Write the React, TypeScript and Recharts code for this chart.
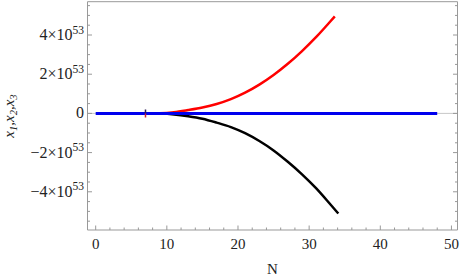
import React from 'react'
import { ComposedChart, Line, Scatter, XAxis, YAxis, ReferenceLine } from 'recharts'

// values in units of 10^53
const redN = [7, 9, 11, 13, 15, 17, 19, 21, 23, 25, 27, 29, 31, 33, 33.6]
const redV = [0, 0.01, 0.06, 0.17, 0.3, 0.48, 0.73, 1.06, 1.47, 1.96, 2.53, 3.18, 3.9, 4.7, 4.95]
const blackN = [7, 9, 11, 13, 15, 17, 19, 21, 23, 25, 27, 29, 31, 33, 34.1]
const blackV = [0, -0.01, -0.05, -0.14, -0.27, -0.47, -0.7, -1.01, -1.41, -1.89, -2.47, -3.11, -3.83, -4.65, -5.11]
const blueN = [0, 48]
const blueV = [0, 0]
const markN = [7]
const markV = [0]

const xMajor = [0, 10, 20, 30, 40, 50]
const yMajor = [-4, -2, 0, 2, 4]
const xTicks = Array.from({ length: 26 }, (_, i) => i * 2)
const yTicks = Array.from({ length: 23 }, (_, i) => -5.5 + i * 0.5)
const expo = '53'

const red = redN.map((n, i) => ({ n, v: redV[i] }))
const black = blackN.map((n, i) => ({ n, v: blackV[i] }))
const blue = blueN.map((n, i) => ({ n, v: blueV[i] }))
const mark = markN.map((n, i) => ({ n, v: markV[i] }))

const serif = { fontFamily: '"Liberation Serif", "DejaVu Serif", serif' }
const frame = '#999999'
const txt = '#222222'

const BottomTick = (props: any) => {
  const { x, y, payload } = props
  const major = xMajor.includes(payload.value)
  return (
    <g>
      <line x1={x} x2={x} y1={y} y2={y - (major ? 4.5 : 2.5)} stroke={frame} strokeWidth={1} />
      {major && (
        <text x={x} y={y + 18.5} textAnchor="middle" style={serif} fontSize={15} fill={txt}>
          {payload.value}
        </text>
      )}
    </g>
  )
}

const TopTick = (props: any) => {
  const { x, y, payload } = props
  const major = xMajor.includes(payload.value)
  return <line x1={x} x2={x} y1={y} y2={y + (major ? 4.5 : 2.5)} stroke={frame} strokeWidth={1} />
}

const LeftTick = (props: any) => {
  const { x, y, payload } = props
  const v = payload.value
  const major = yMajor.includes(v)
  return (
    <g>
      <line x1={x} x2={x + (major ? 4.5 : 2.5)} y1={y} y2={y} stroke={frame} strokeWidth={1} />
      {major && (
        <text x={x - 3.5} y={y + 5} textAnchor="end" style={serif} fontSize={16} fill={txt}>
          {v === 0 ? '0' : `${v < 0 ? '\u2212' : ''}${Math.abs(v)}\u00d710`}
          {v !== 0 && (
            <tspan dy={-6.5} fontSize={11.5}>
              {expo}
            </tspan>
          )}
        </text>
      )}
    </g>
  )
}

const RightTick = (props: any) => {
  const { x, y, payload } = props
  const major = yMajor.includes(payload.value)
  return <line x1={x} x2={x - (major ? 4.5 : 2.5)} y1={y} y2={y} stroke={frame} strokeWidth={1} />
}

const YLabel = () => (
  <text
    x={0}
    y={0}
    transform="translate(14,116) rotate(-90)"
    textAnchor="middle"
    style={serif}
    fontStyle="italic"
    fontSize={15}
    fill={txt}
  >
    x<tspan dy={3} fontSize={10.5}>1</tspan>
    <tspan dy={-3}>,x</tspan>
    <tspan dy={3} fontSize={10.5}>2</tspan>
    <tspan dy={-3}>,x</tspan>
    <tspan dy={3} fontSize={10.5}>3</tspan>
  </text>
)

const XLabel = (props: any) => {
  const { viewBox } = props
  return (
    <text x={viewBox.x + viewBox.width / 2} y={274} textAnchor="middle" style={serif} fontSize={15} fill={txt}>
      N
    </text>
  )
}

const MarkShape = (props: any) => {
  const { cx, cy } = props
  return (
    <g>
      <line x1={cx} x2={cx} y1={cy - 4} y2={cy} stroke="#2a1a55" strokeWidth={1.5} />
      <line x1={cx} x2={cx} y1={cy} y2={cy + 4} stroke="#cc2233" strokeWidth={1.5} />
    </g>
  )
}

export default function App() {
  return (
    <div style={{ position: 'absolute', left: 0, top: 0, background: '#fff' }}>
      <ComposedChart width={460} height={278} margin={{ top: 0.7, right: 1.5, bottom: 47, left: 86.5 }}>
        <XAxis
          dataKey="n"
          type="number"
          domain={[-1.15, 50.85]}
          ticks={xTicks}
          interval={0}
          height={1}
          tickSize={0}
          tickMargin={0}
          tickLine={false}
          tick={BottomTick}
          axisLine={{ stroke: frame }}
          allowDataOverflow
          label={<XLabel />}
        />
        <XAxis
          xAxisId="top"
          orientation="top"
          type="number"
          domain={[-1.15, 50.85]}
          ticks={xTicks}
          interval={0}
          height={1}
          tickSize={0}
          tickMargin={0}
          tickLine={false}
          tick={TopTick}
          axisLine={{ stroke: frame }}
          allowDataOverflow
        />
        <YAxis
          dataKey="v"
          type="number"
          domain={[-5.95, 5.7]}
          ticks={yTicks}
          interval={0}
          width={1}
          tickSize={0}
          tickMargin={0}
          tickLine={false}
          tick={LeftTick}
          axisLine={{ stroke: frame }}
          allowDataOverflow
          label={<YLabel />}
        />
        <YAxis
          yAxisId="right"
          orientation="right"
          type="number"
          domain={[-5.95, 5.7]}
          ticks={yTicks}
          interval={0}
          width={1}
          tickSize={0}
          tickMargin={0}
          tickLine={false}
          tick={RightTick}
          axisLine={{ stroke: frame }}
          allowDataOverflow
        />
        <ReferenceLine y={0} stroke="#c8c8c8" strokeWidth={1} />
        <Line data={red} dataKey="v" type="monotone" stroke="#ff0000" strokeWidth={2.5} dot={false} isAnimationActive={false} />
        <Line data={black} dataKey="v" type="monotone" stroke="#000000" strokeWidth={2.5} dot={false} isAnimationActive={false} />
        <Line data={blue} dataKey="v" type="linear" stroke="#0000ee" strokeWidth={3} dot={false} isAnimationActive={false} />
        <Scatter data={mark} dataKey="v" shape={<MarkShape />} isAnimationActive={false} />
      </ComposedChart>
    </div>
  )
}
